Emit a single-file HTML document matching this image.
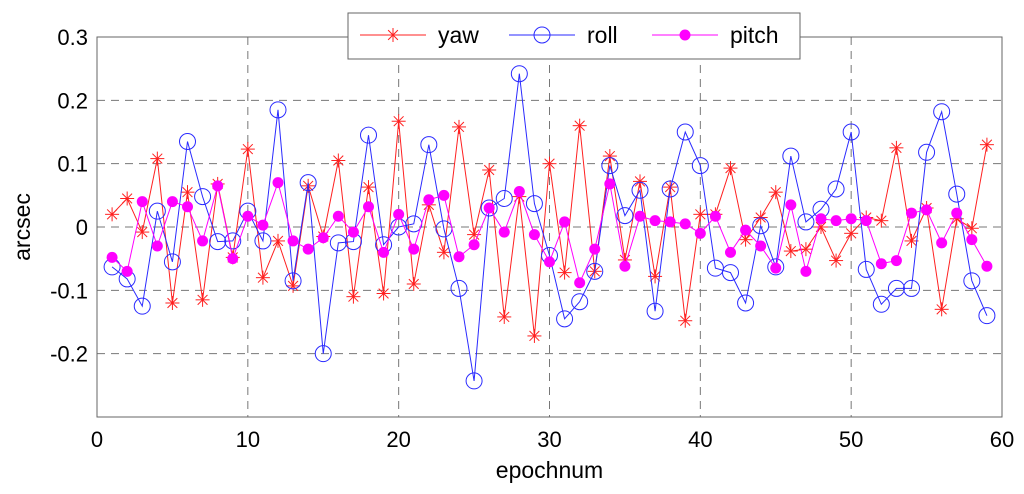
<!DOCTYPE html>
<html><head><meta charset="utf-8"><style>
body{margin:0;background:#fff;}
svg{display:block;font-family:"Liberation Sans",sans-serif;}
</style></head><body>
<svg id="chart" width="1024" height="494" viewBox="0 0 1024 494" xmlns="http://www.w3.org/2000/svg"></svg>
<script>
const yaw=[0.02,0.045,-0.008,0.108,-0.12,0.055,-0.115,0.068,-0.048,0.123,-0.08,-0.022,-0.093,0.065,-0.015,0.105,-0.11,0.063,-0.105,0.167,-0.09,0.035,-0.04,0.158,-0.012,0.09,-0.142,0.048,-0.172,0.1,-0.072,0.16,-0.07,0.112,-0.052,0.072,-0.078,0.063,-0.148,0.02,0.02,0.093,-0.02,0.015,0.055,-0.038,-0.035,0.0,-0.053,-0.01,0.015,0.01,0.125,-0.022,0.03,-0.13,0.013,-0.002,0.13];
const roll=[-0.063,-0.082,-0.125,0.025,-0.055,0.135,0.048,-0.023,-0.022,0.025,-0.022,0.185,-0.085,0.07,-0.2,-0.025,-0.023,0.145,-0.028,0.0,0.005,0.13,-0.003,-0.097,-0.243,0.03,0.045,0.242,0.037,-0.045,-0.145,-0.118,-0.07,0.097,0.018,0.058,-0.133,0.06,0.15,0.097,-0.065,-0.072,-0.12,0.002,-0.063,0.112,0.008,0.028,0.06,0.15,-0.067,-0.122,-0.097,-0.097,0.118,0.182,0.052,-0.085,-0.14];
const pitch=[-0.048,-0.07,0.04,-0.03,0.04,0.032,-0.022,0.065,-0.05,0.017,0.003,0.07,-0.022,-0.035,-0.017,0.017,-0.008,0.032,-0.04,0.02,-0.035,0.043,0.05,-0.047,-0.028,0.03,-0.008,0.056,-0.012,-0.055,0.008,-0.088,-0.035,0.068,-0.062,0.017,0.01,0.008,0.005,-0.01,0.017,-0.04,-0.005,-0.03,-0.065,0.035,-0.07,0.013,0.01,0.013,0.01,-0.058,-0.053,0.022,0.027,-0.025,0.022,-0.02,-0.062];
const xTicks=[0,10,20,30,40,50,60];
const yTicks=[0.3,0.2,0.1,0,-0.1,-0.2];
const yTickLabels=["0.3","0.2","0.1","0","-0.1","-0.2"];

const L=97,R=1002,T=37,B=417;
const sx=v=>L+(v/60)*(R-L);
const sy=v=>B-((v+0.3)/0.6)*(B-T);
const svg=document.getElementById('chart');
const NS='http://www.w3.org/2000/svg';
function mk(tag,attrs,parent){const e=document.createElementNS(NS,tag);for(const k in attrs)e.setAttribute(k,attrs[k]);(parent||svg).appendChild(e);return e;}

const grid=mk('g',{});


xTicks.forEach(t=>{if(t>0&&t<60){const l=mk('line',{x1:sx(t),x2:sx(t),y1:T,y2:B,stroke:'#777','stroke-dasharray':'8,6','stroke-width':1},grid);

}});
yTicks.forEach(t=>{if(t<0.3){const l=mk('line',{x1:L,x2:R,y1:sy(t),y2:sy(t),stroke:'#777','stroke-dasharray':'8,6','stroke-width':1},grid);

}});
const box=mk('rect',{x:L,y:T,width:R-L,height:B-T,fill:'none',stroke:'#666','stroke-width':1});



xTicks.forEach((t,i)=>{const tx=mk('text',{x:sx(t),y:447,'font-size':22,'text-anchor':'middle',fill:'#000'});tx.textContent=String(t);

});
yTicks.forEach((t,i)=>{const tx=mk('text',{x:88,y:sy(t)+8,'font-size':22,'text-anchor':'end',fill:'#000'});tx.textContent=yTickLabels[i];

});
const xt=mk('text',{x:sx(30),y:478,'font-size':23,'text-anchor':'middle'});xt.textContent='epochnum';


const yt=mk('text',{x:30,y:227,'font-size':23,'text-anchor':'middle',transform:'rotate(-90 30 227)'});yt.textContent='arcsec';



function star(g,x,y,c){const r=7;[[0,r],[r,0],[r*0.7,r*0.7],[r*0.7,-r*0.7]].forEach(([dx,dy])=>mk('line',{x1:x-dx,y1:y-dy,x2:x+dx,y2:y+dy,stroke:c,'stroke-width':1},g));}
function series(vals,color,kind,name){
  const g=mk('g',{});
  
  
  const pts=vals.map((v,i)=>sx(i+1)+','+sy(v)).join(' ');
  mk('polyline',{points:pts,fill:'none',stroke:color,'stroke-width':1},g);
  vals.forEach((v,i)=>{const x=sx(i+1),y=sy(v);
    if(kind==='star')star(g,x,y,color);
    else if(kind==='circle')mk('circle',{cx:x,cy:y,r:8,fill:'none',stroke:color,'stroke-width':1},g);
    else mk('circle',{cx:x,cy:y,r:5.5,fill:color},g);});
}
series(yaw,'#ff2020','star','yaw');
series(roll,'#2a2aff','circle','roll');
series(pitch,'#ff00ff','dot','pitch');

const lg=mk('g',{});


mk('rect',{x:348,y:13,width:452,height:46,fill:'#fff',stroke:'#666','stroke-width':1},lg);
[['yaw','#ff2020','star',360],['roll','#2a2aff','circle',509],['pitch','#ff00ff','dot',652]].forEach(([n,c,k,x0])=>{
  const e=mk('g',{},lg);
  
  
  mk('line',{x1:x0,x2:x0+66,y1:35,y2:35,stroke:c,'stroke-width':1},e);
  const cx=x0+33;
  if(k==='star')star(e,cx,35,c);else if(k==='circle')mk('circle',{cx:cx,cy:35,r:8,fill:'none',stroke:c},e);else mk('circle',{cx:cx,cy:35,r:5.5,fill:c},e);
  const t=mk('text',{x:x0+78,y:43,'font-size':23},e);t.textContent=n;
});
</script>
</body></html>
